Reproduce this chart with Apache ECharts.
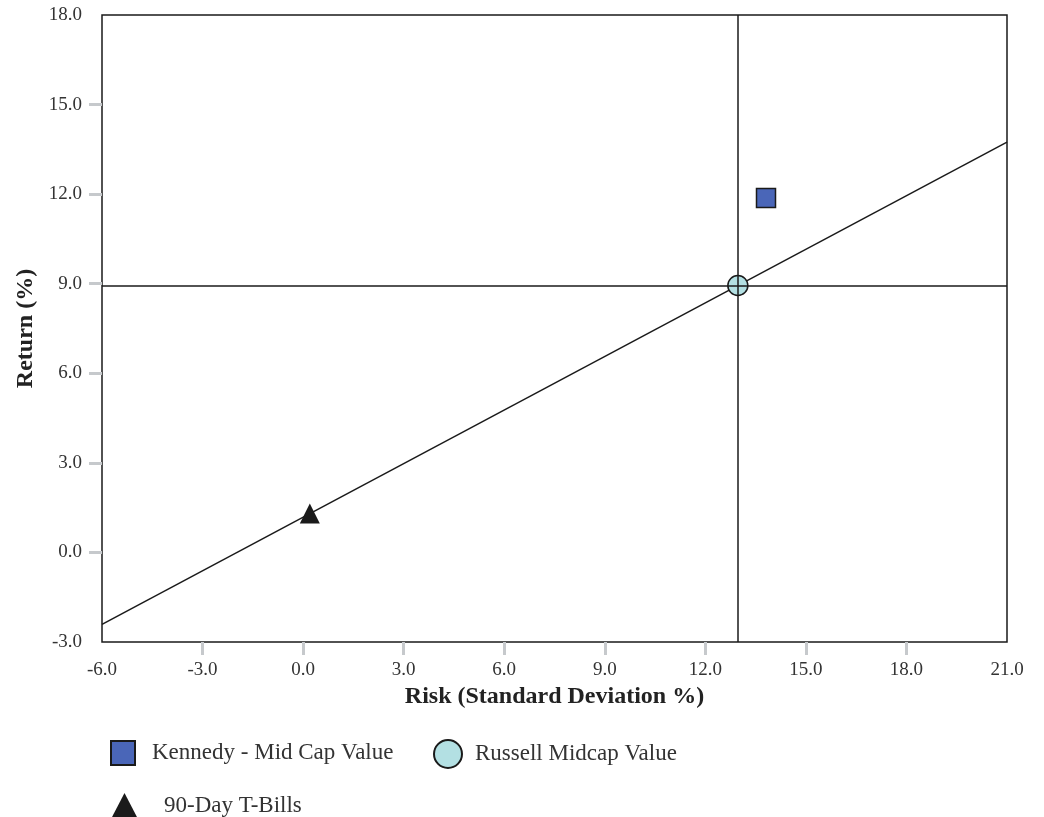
<!DOCTYPE html>
<html>
<head>
<meta charset="utf-8">
<script src="https://cdn.jsdelivr.net/npm/echarts@6/dist/echarts.min.js"></script>
<style>html,body{margin:0;padding:0;background:#fff}#c{width:1044px;height:817px}</style>
</head>
<body>
<div id="c"></div>
<script>
// Data
const seriesNames = ['Kennedy - Mid Cap Value', 'Russell Midcap Value', '90-Day T-Bills'];
const riskValues = [13.81, 12.97, 0.2];
const returnValues = [11.87, 8.94, 1.30];
const xTicks = { min: -6, max: 21, interval: 3 };
const yTicks = { min: -3, max: 18, interval: 3 };
// inner tick positions (end ticks are not drawn in the reference)
const xInnerTicks = [-3, 0, 3, 6, 9, 12, 15, 18];
const yInnerTicks = [0, 3, 6, 9, 12, 15];

const FONT = '"Liberation Serif", "DejaVu Serif", serif';
const chart = echarts.init(document.getElementById('c'));

// Capital market line: through T-Bills and benchmark, extended to axis range
const tX = riskValues[2], tY = returnValues[2];
const bX = riskValues[1], bY = returnValues[1];
const slope = (bY - tY) / (bX - tX);
const cmlData = [[xTicks.min, tY + (xTicks.min - tX) * slope], [xTicks.max, tY + (xTicks.max - tX) * slope]];

const lt = (pad) => ({ fontFamily: FONT, fontSize: 23, color: '#333', padding: [0, 0, 0, pad] });
const tickStyle = { color: '#c6c9cc', width: 3 };

chart.setOption({
  animation: false,
  grid: { left: 102, right: 37, top: 15, bottom: 175, show: true, borderColor: '#1a1a1a', borderWidth: 1.5, backgroundColor: 'transparent' },
  xAxis: {
    type: 'value', min: xTicks.min, max: xTicks.max, interval: xTicks.interval,
    name: 'Risk (Standard Deviation %)', nameLocation: 'middle', nameGap: 43,
    nameTextStyle: { fontFamily: FONT, fontSize: 24, fontWeight: 'bold', color: '#222' },
    axisLine: { show: false, onZero: false },
    axisTick: { show: true, length: 13, customValues: xInnerTicks, lineStyle: tickStyle },
    axisLabel: { fontFamily: FONT, fontSize: 19, color: '#333', margin: 19, formatter: v => v.toFixed(1) },
    splitLine: { show: false }
  },
  yAxis: {
    type: 'value', min: yTicks.min, max: yTicks.max, interval: yTicks.interval,
    name: 'Return (%)', nameLocation: 'middle', nameGap: 60,
    nameTextStyle: { fontFamily: FONT, fontSize: 24, fontWeight: 'bold', color: '#222' },
    axisLine: { show: false, onZero: false },
    axisTick: { show: true, length: 13, customValues: yInnerTicks, lineStyle: tickStyle },
    axisLabel: { fontFamily: FONT, fontSize: 19, color: '#333', margin: 20, formatter: v => v.toFixed(1) },
    splitLine: { show: false }
  },
  legend: [
    { left: 105, top: 735, itemWidth: 24, itemHeight: 24, textStyle: lt(12),
      data: [{ name: seriesNames[0], icon: 'rect' }] },
    { left: 428, top: 734, itemWidth: 28, itemHeight: 28, textStyle: lt(8),
      data: [{ name: seriesNames[1], icon: 'circle' }] },
    { left: 106, top: 788, itemWidth: 27, itemHeight: 26, textStyle: lt(21),
      data: [{ name: seriesNames[2], icon: 'triangle' }] }
  ],
  series: [
    { type: 'line', data: cmlData, symbol: 'none', silent: true, lineStyle: { color: '#1a1a1a', width: 1.5 }, z: 1 },
    { name: seriesNames[1], type: 'scatter', data: [[riskValues[1], returnValues[1]]], symbol: 'circle', symbolSize: 20,
      itemStyle: { color: '#b3e0e3', borderColor: '#1a1a1a', borderWidth: 1.5, opacity: 1 }, z: 3,
      markLine: { silent: true, symbol: 'none', label: { show: false }, lineStyle: { color: '#1a1a1a', width: 1.5, type: 'solid' },
        data: [{ xAxis: riskValues[1] }, { yAxis: returnValues[1] }] } },
    { name: seriesNames[0], type: 'scatter', data: [[riskValues[0], returnValues[0]]], symbol: 'rect', symbolSize: 19,
      itemStyle: { color: '#4a66b8', borderColor: '#1a1a1a', borderWidth: 1.5, opacity: 1 }, z: 3 },
    { name: seriesNames[2], type: 'scatter', data: [[riskValues[2], returnValues[2]]], symbol: 'triangle', symbolSize: 20,
      itemStyle: { color: '#1a1a1a', opacity: 1 }, z: 3 }
  ]
});
</script>
</body>
</html>
